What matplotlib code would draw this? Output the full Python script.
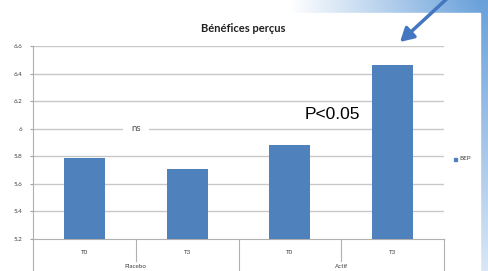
"""
    Bénéfices perçus - bar chart with grouped category axis
"""
import numpy as np
import matplotlib.pyplot as plt
import matplotlib.transforms as mtransforms

# data
groups = ["Placebo", "Actif"]
times = ["T0", "T3", "T0", "T3"]
values = [5.79, 5.71, 5.88, 6.46]
series_name = "BEP"
yticks = [5.2, 5.4, 5.6, 5.8, 6.0, 6.2, 6.4, 6.6]
ytick_labels = ["5.2", "5.4", "5.6", "5.8", "6", "6.2", "6.4", "6.6"]

W, H = 488, 271
bar_color = "#4F81BD"
grid_color = "#C8C8C8"

fig = plt.figure(figsize=(W / 100, H / 100), dpi=100)

# background: slide gradient in blue on the right, white chart box over it
bg = fig.add_axes([0, 0, 1, 1])
xx, yy = np.meshgrid(np.arange(W), np.arange(H))
t = np.clip((xx - 290) / 190.0, 0, 1) * (1 - 0.75 * yy / H)
blue = np.array([105, 160, 218]) / 255.0
img = np.ones((H, W, 3)) * (1 - t[..., None]) + blue * t[..., None]
bg.imshow(img, extent=[0, W, H, 0], aspect="auto")
bg.add_patch(plt.Rectangle((0, 13), 480, H - 13, color="white", zorder=2))
bg.set_xlim(0, W)
bg.set_ylim(H, 0)
bg.axis("off")

# main axes, placed in pixel positions
left, right, top, bottom = 33, 444, 46, 239
ax = fig.add_axes([left / W, 1 - bottom / H, (right - left) / W, (bottom - top) / H])
ax.patch.set_alpha(0)
x = np.arange(len(values))
ax.bar(x, values, width=0.4, color=bar_color, zorder=3)
ax.set_xlim(-0.5, len(values) - 0.5)
ax.set_ylim(yticks[0], yticks[-1])
ax.set_yticks(yticks)
ax.set_yticklabels(ytick_labels, fontsize=4.5, color="#404040", family="Lato")
ax.tick_params(axis="y", length=2, color="#A0A0A0", pad=6)
ax.set_xticks([])
for v in yticks[1:]:
    ax.axhline(v, color=grid_color, lw=1, zorder=1)
for s in ["top", "right"]:
    ax.spines[s].set_visible(False)
ax.spines["left"].set_color("#B0B0B0")
ax.spines["bottom"].set_color("#B0B0B0")

# two level category axis
trans = mtransforms.blended_transform_factory(ax.transData, ax.transAxes)
hpx = bottom - top
for xi in [-0.5, 1.5, 3.5]:
    ax.plot([xi, xi], [0, -40 / hpx], transform=trans, color="#B0B0B0", lw=0.8, clip_on=False)
for xi in [0.5, 2.5]:
    ax.plot([xi, xi], [0, -22 / hpx], transform=trans, color="#B0B0B0", lw=0.8, clip_on=False)
for xi, lab in zip(x, times):
    ax.text(xi, -13 / hpx, lab, transform=trans, ha="center", va="center",
            fontsize=4.5, color="#404040", family="Lato")
for gi, g in enumerate(groups):
    ax.text(2 * gi + 0.5, -27 / hpx, g, transform=trans, ha="center", va="center",
            fontsize=4.5, color="#404040", family="Lato")

# annotations
ax.text(0.5, 6.0, "ns", ha="center", va="center", fontsize=7, color="#505050",
        family="Lato", bbox=dict(facecolor="white", edgecolor="none", pad=6), zorder=4)
ax.text(2.41, 6.1, "P<0.05", ha="center", va="center", fontsize=12.5,
        family="Liberation Sans", color="black", zorder=4)

# title and legend
fig.text(243 / W, 1 - 28 / H, "Bénéfices perçus", ha="center", va="center",
         fontsize=8, fontweight="bold", family="Lato", color="#202020")
fig.patches.append(plt.Rectangle((454 / W, 1 - 160.5 / H), 3 / W, 3 / H,
                                 transform=fig.transFigure, color=bar_color))
fig.text(459 / W, 1 - 159 / H, series_name, ha="left", va="center",
         fontsize=4.5, family="Lato", color="#404040")

# blue arrow pointing at the last bar
bg.annotate("", xy=(400, 42), xytext=(452, -6), xycoords="data",
            arrowprops=dict(arrowstyle="-|>,head_length=0.8,head_width=0.45",
                            color="#4577C0", lw=2.5, shrinkA=0, shrinkB=0),
            zorder=5)

fig.savefig("out.png", dpi=100)
